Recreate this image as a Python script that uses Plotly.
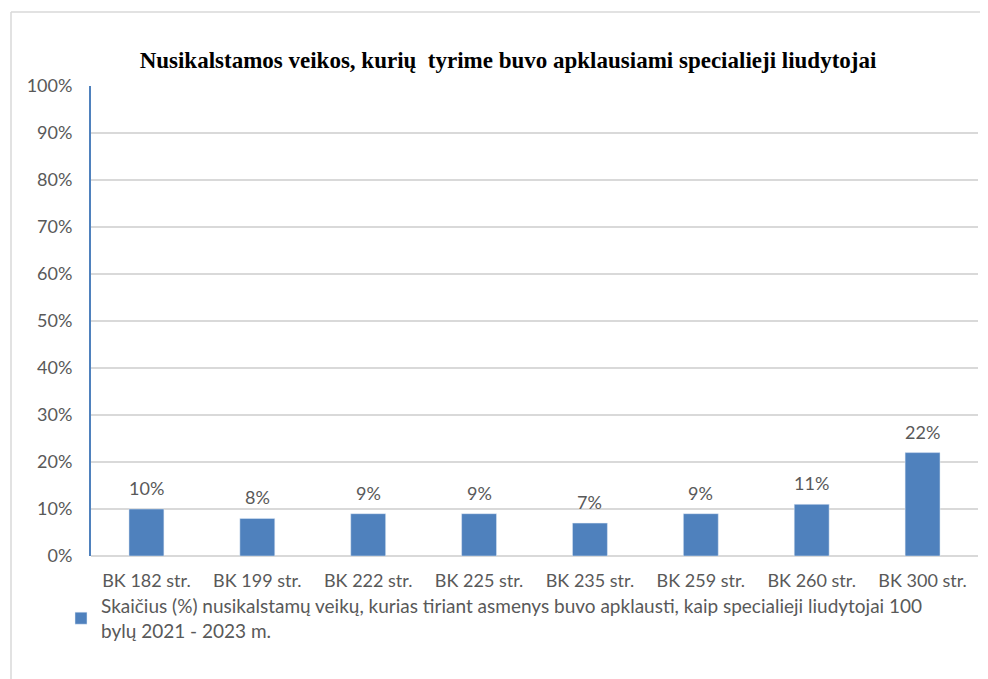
import plotly.graph_objects as go

categories = ["BK 182 str.", "BK 199 str.", "BK 222 str.", "BK 225 str.",
              "BK 235 str.", "BK 259 str.", "BK 260 str.", "BK 300 str."]
values = [10, 8, 9, 9, 7, 9, 11, 22]
labels = ["10%", "8%", "9%", "9%", "7%", "9%", "11%", "22%"]
tick_vals = [0, 10, 20, 30, 40, 50, 60, 70, 80, 90, 100]
tick_text = ["0%", "10%", "20%", "30%", "40%", "50%", "60%", "70%", "80%", "90%", "100%"]
series_name = ("Skaičius (%) nusikalstamų veikų, kurias tiriant asmenys buvo apklausti, "
               "kaip specialieji liudytojai 100<br>bylų 2021 - 2023 m.")
title = "Nusikalstamos veikos, kurių  tyrime buvo apklausiami specialieji liudytojai"

# page has an 8px body margin, so the figure is offset by 8px
OFF = 8
W, H = 988 - OFF, 679 - OFF
L, T = 91 - OFF, 86 - OFF
R = W - (978 - OFF)
B = H - (556 - OFF)
pw, ph = W - L - R, H - T - B

font = "Lato, 'Open Sans', sans-serif"
gray = "#595959"

fig = go.Figure()
fig.add_trace(go.Bar(
    x=categories, y=values, name=series_name,
    marker=dict(color="#4f81bd"),
))

for c, v, t in zip(categories, values, labels):
    fig.add_annotation(x=c, y=v, text=t, showarrow=False, yanchor="middle", yshift=21,
                       font=dict(family=font, size=18, color=gray))

fig.update_layout(
    width=W, height=H,
    margin=dict(l=L, r=R, t=T, b=B),
    paper_bgcolor="white", plot_bgcolor="white",
    bargap=0.685,
    title=dict(text="<b>" + title + "</b>", x=(508 - OFF - L) / pw, xref="paper", xanchor="center",
               y=1 - (60 - OFF) / H, yanchor="middle",
               font=dict(family="'Liberation Serif', 'Times New Roman', serif", size=23, color="black")),
    showlegend=True,
    legend=dict(orientation="h", x=(53 - L) / pw, xanchor="left", y=-(587 - OFF - (T + ph)) / ph,
                yanchor="top", font=dict(family=font, size=19, color=gray),
                bgcolor="rgba(0,0,0,0)"),
    xaxis=dict(showgrid=False, showline=False, ticks="", tickfont=dict(family=font, size=18, color=gray),
               range=[-0.5, 7.5], ticklabelstandoff=12),
    yaxis=dict(range=[0, 100], tickvals=tick_vals, ticktext=tick_text,
               tickfont=dict(family=font, size=18, color=gray),
               showgrid=True, gridcolor="#d9d9d9", gridwidth=1.5,
               zeroline=True, zerolinecolor="#d9d9d9", zerolinewidth=1.5,
               showline=True, linecolor="#4f81bd", linewidth=2, ticks="",
               ticklabelstandoff=13),
)

bx = (11 - OFF - L) / pw
by = 1 + (T - (12 - OFF)) / ph
# chart-area border: top and left edges (others fall outside the page)
fig.add_shape(type="line", xref="paper", yref="paper",
              x0=bx, x1=(W - L) / pw, y0=by, y1=by,
              line=dict(color="#d9d9d9", width=1.5))
fig.add_shape(type="line", xref="paper", yref="paper",
              x0=bx, x1=bx, y0=by, y1=-(H - (T + ph)) / ph,
              line=dict(color="#d9d9d9", width=1.5))

fig.write_html("out.html")
